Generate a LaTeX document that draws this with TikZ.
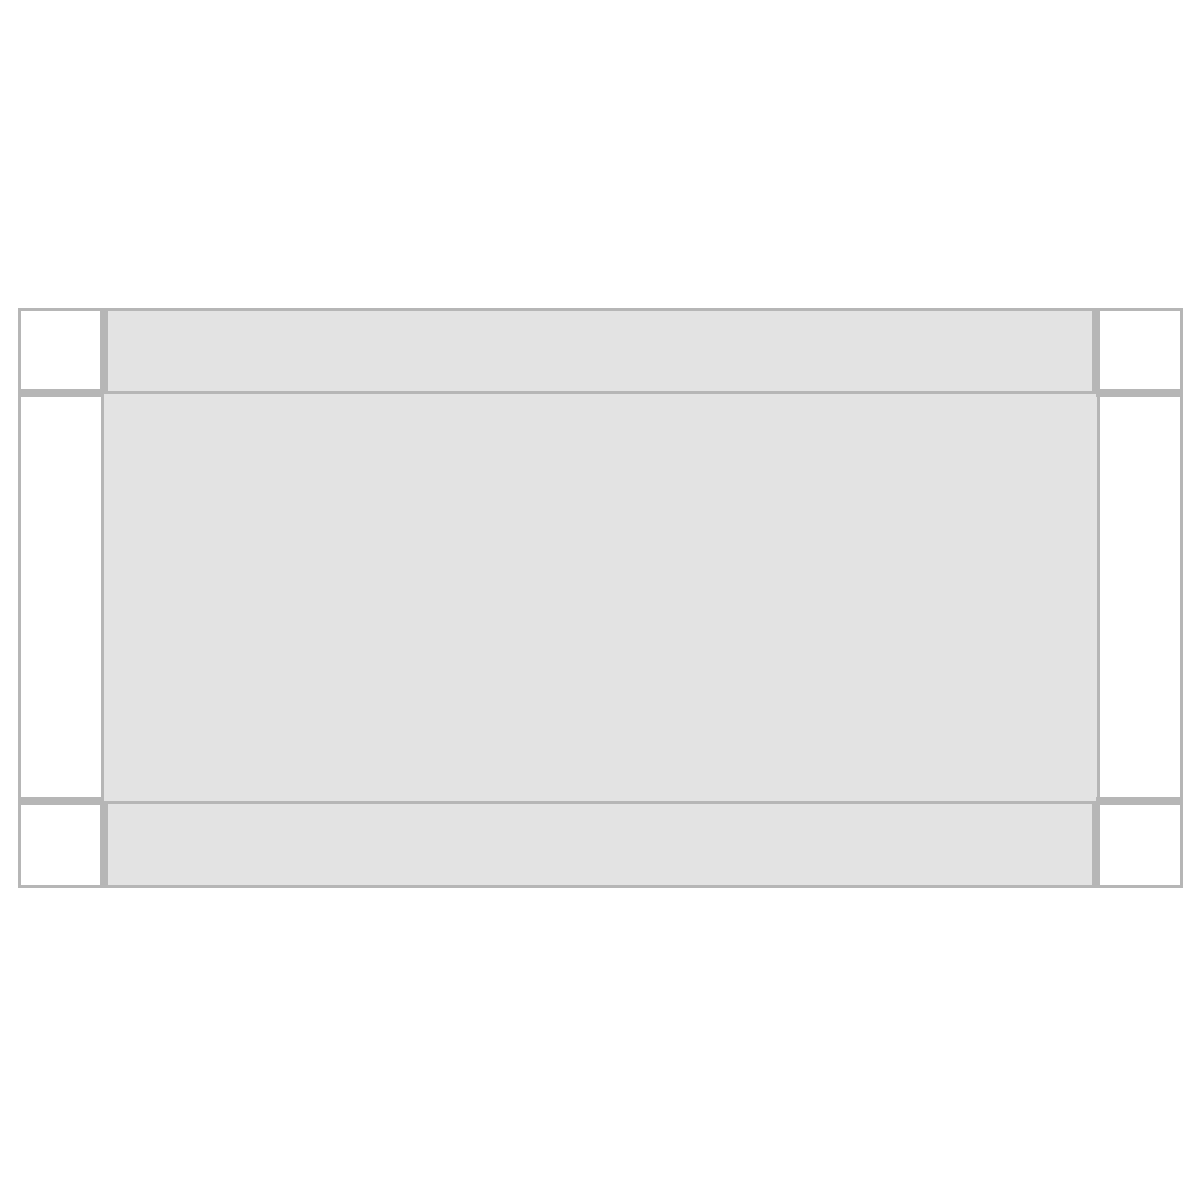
\documentclass[tikz,border=0pt]{standalone}
\definecolor{edgegray}{HTML}{B6B6B6}
\definecolor{panelgray}{HTML}{E3E3E3}
\begin{document}
\begin{tikzpicture}[x=0.5pt,y=-0.5pt,
  thinline/.style={draw=edgegray,line width=1.5pt},
  thickbar/.style={draw=edgegray,line width=4pt},
  panel/.style={fill=panelgray}]
\useasboundingbox[fill=white] (0,0) rectangle (1200,1200);
% gray panels
\fill[panel] (102,310) rectangle (1098,886);
% thin grid lines across middle
\draw[thinline] (20,392) -- (1180,392);
\draw[thinline] (20,802) -- (1180,802);
\draw[thinline] (102,310) -- (102,886);
\draw[thinline] (1098,310) -- (1098,886);
% thick bars in the corner rows/columns
\draw[thickbar] (104,310) -- (104,392);
\draw[thickbar] (1096,310) -- (1096,392);
\draw[thickbar] (104,802) -- (104,886);
\draw[thickbar] (1096,802) -- (1096,886);
\draw[thickbar] (19,392.5) -- (104,392.5);
\draw[thickbar] (1096,392.5) -- (1181,392.5);
\draw[thickbar] (19,801) -- (104,801);
\draw[thickbar] (1096,801) -- (1181,801);
% outer frame
\draw[thinline] (19.5,309.5) rectangle (1181.5,886.5);
\end{tikzpicture}
\end{document}
